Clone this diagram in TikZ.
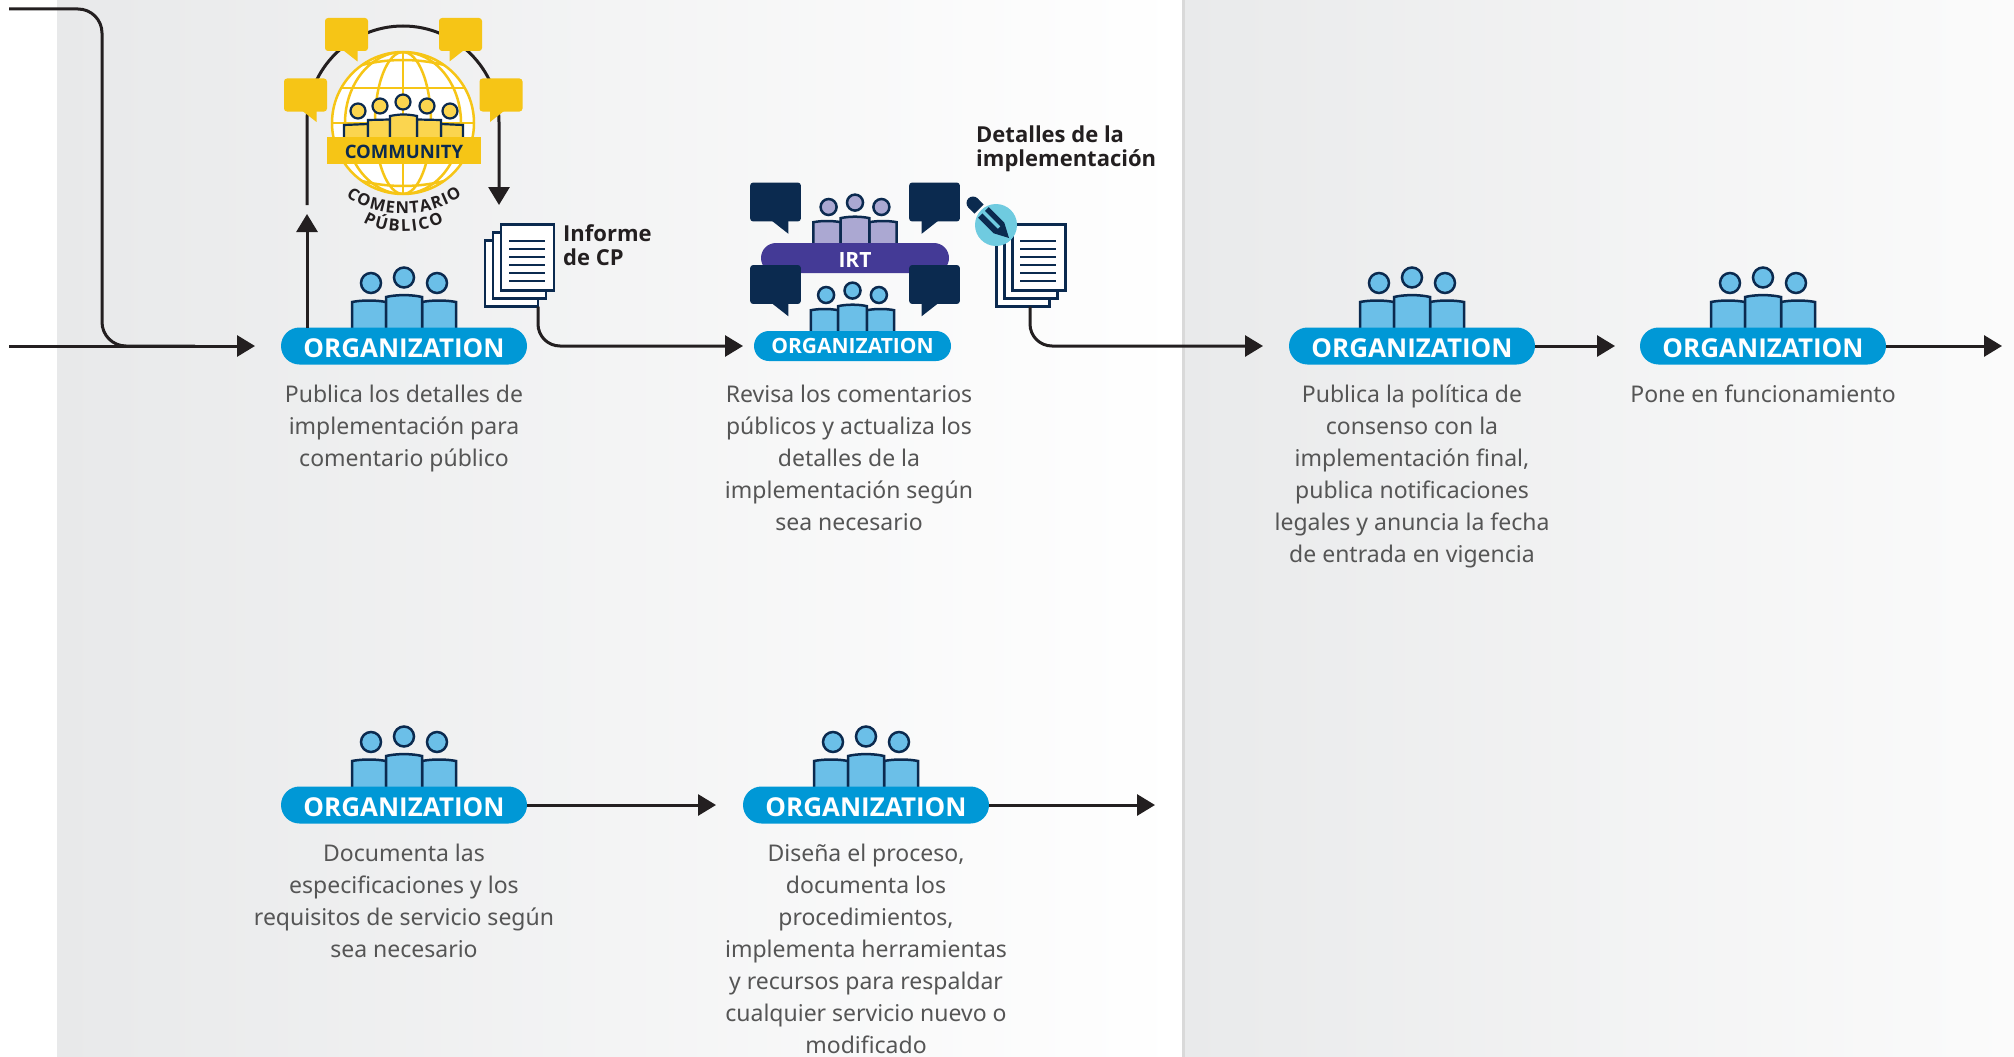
\documentclass[tikz,border=0pt]{standalone}
\usepackage{fontspec}
\setmainfont{Noto Sans}
\newfontfamily\labelfont{Open Sans}
\usetikzlibrary{arrows.meta,decorations.text}

\definecolor{navy}{HTML}{0B2A4F}
\definecolor{ink}{HTML}{231F20}
\definecolor{bodytext}{HTML}{555555}
\definecolor{orgblue}{HTML}{0098D6}
\definecolor{orgfill}{HTML}{6BBFE8}
\definecolor{irtblue}{HTML}{443A96}
\definecolor{irtfill}{HTML}{ABA8D2}
\definecolor{gold}{HTML}{F6C516}
\definecolor{goldfill}{HTML}{FBD54F}
\definecolor{pencyan}{HTML}{6FCBE0}
\definecolor{panela}{HTML}{E8E9EA}
\definecolor{panelb}{HTML}{F3F4F4}
\definecolor{panelc}{HTML}{E9EAEB}
\definecolor{paneld}{HTML}{F1F2F2}
\definecolor{panele}{HTML}{FBFBFB}

\tikzset{
    flowline/.style={ink, line width=3pt},
    flow/.style={flowline, -{Triangle[length=18pt,width=21pt]}},
    badge/.style={fill=orgblue, text=white, font=\labelfont\fontsize{26}{26}\selectfont\bfseries, rounded corners=18.5pt,
        minimum width=246pt, minimum height=37pt, inner sep=0pt, outer sep=0pt, text height=22pt, text depth=0pt},
    smallbadge/.style={badge, minimum height=30pt, rounded corners=15pt, font=\labelfont\fontsize{21}{21}\selectfont\bfseries},
    desc/.style={text=bodytext, font=\fontsize{23}{32}\selectfont, align=center, anchor=north, inner sep=0pt},
    doclabel/.style={text=ink, font=\labelfont\fontsize{22}{24}\selectfont\bfseries, align=left, anchor=north west, inner sep=0pt},
    sheet/.style={draw=navy, fill=white, line width=2.5pt, minimum width=53pt, minimum height=66pt, inner sep=0pt, outer sep=0pt},
}

% centre x, bottom y, scale, fill
\newcommand{\people}[4]{
    \begin{scope}[shift={(#1,#2)}, scale=#3]
        \foreach \dx/\dy in {-33/-45, 33/-45, 0/-50.5} {
            \draw[draw=navy, fill=#4, line width=2.5pt] (\dx,\dy) circle [radius=10];
        }
        \foreach \dx in {-52,18} {
            \draw[draw=navy, fill=#4, line width=2.5pt] (\dx,0) -- (\dx,-26)
                .. controls (\dx+10,-28) and (\dx+24,-28) .. (\dx+34,-26) -- (\dx+34,0);
        }
        \draw[draw=navy, fill=#4, line width=2.5pt] (-18,0) -- (-18,-31)
            .. controls (-8,-33.5) and (8,-33.5) .. (18,-31) -- (18,0);
    \end{scope}
}

% centre x, centre y, scale, flip, colour
\newcommand{\bubble}[5]{
    \begin{scope}[shift={(#1,#2)}, xscale=#3*#4, yscale=#3]
        \fill[#5, rounded corners=3pt] (-21.5,-16.5) rectangle (21.5,16.5);
        \fill[#5] (-3,16) -- (11,27) -- (11,16) -- cycle;
    \end{scope}
}

\begin{document}
\begin{tikzpicture}[x=1pt, y=-1pt]

% Dimensions
\def\width{2014}
\def\height{1057}
\def\rowa{346}
\def\rowb{805}

\useasboundingbox (0,0) rectangle (\width,\height);

% Panels
\shade[left color=panela, middle color=panelb, right color=white] (57,0) rectangle (1182,\height);
\fill[black!15] (1182,0) rectangle (1185,\height);
\shade[left color=panelc, middle color=paneld, right color=panele] (1185,0) rectangle (\width,\height);

% People above the badges
\people{404}{328}{1}{orgfill}
\people{1412}{328}{1}{orgfill}
\people{1763}{328}{1}{orgfill}
\people{404}{787}{1}{orgfill}
\people{866}{787}{1}{orgfill}
\people{855}{243}{0.8}{irtfill}

% Badges
\node[badge] (org1) at (404,\rowa) {ORGANIZATION};
\node[badge] (org3) at (1412,\rowa) {ORGANIZATION};
\node[badge] (org4) at (1763,\rowa) {ORGANIZATION};
\node[badge] (org5) at (404,\rowb) {ORGANIZATION};
\node[badge] (org6) at (866,\rowb) {ORGANIZATION};
\node[smallbadge, fill=irtblue, minimum width=188pt, text height=18pt] (irt) at (855,258) {IRT};

% Review group
\bubble{775.5}{202}{1.18}{1}{navy}
\bubble{934.5}{202}{1.18}{-1}{navy}
\bubble{775.5}{284.5}{1.18}{1}{navy}
\bubble{934.5}{284.5}{1.18}{-1}{navy}
\people{852.5}{331}{0.8}{orgfill}
\node[smallbadge, minimum width=197pt, text height=14pt] (org2) at (852.5,\rowa) {ORGANIZATION};

% Comment loop
\coordinate (topin) at (9,9);
\coordinate (rowin) at (9,\rowa);
\coordinate (turn) at (102,\rowa);
\coordinate (pcup) at (307,214);
\coordinate (pcleft) at (307,205);
\coordinate (pcright) at (499,205);
\draw[flow] (org1.north -| pcup) -- (pcup);
\draw[flow] (pcleft) -- (307,122) arc [start angle=180, end angle=360, radius=96] -- (pcright);

% Globe
\begin{scope}
    \fill[white] (403,123) circle [radius=71];
    \clip (403,123) circle [radius=71];
    \draw[gold, line width=2.5pt] (403,123) ellipse [x radius=28, y radius=71];
    \draw[gold, line width=2.5pt] (403,123) ellipse [x radius=58, y radius=71];
    \draw[gold, line width=2.5pt] (403,40) -- (403,200);
    \foreach \y in {88,123,158} {
        \draw[gold, line width=2.5pt] (320,\y) -- (490,\y);
    }
    \draw[gold, line width=2.5pt] (340,72) .. controls (380,56) and (426,56) .. (466,72);
    \draw[gold, line width=2.5pt] (340,174) .. controls (380,190) and (426,190) .. (466,174);
\end{scope}
\draw[gold, line width=2.5pt] (403,123) circle [radius=71];

% Community people
\begin{scope}[draw=navy, line width=2.2pt]
    \foreach \cx/\cy in {358/111, 380/106, 427/106, 450/111, 403/102} {
        \draw[draw=navy, fill=goldfill] (\cx,\cy) circle [radius=7.5];
    }
    \draw[draw=navy, fill=goldfill] (344,137) -- (344,125) -- (368,124) -- (368,137);
    \draw[draw=navy, fill=goldfill] (463,137) -- (463,125) -- (441,124) -- (441,137);
    \draw[draw=navy, fill=goldfill] (368,137) -- (368,120) -- (390,119.5) -- (390,137);
    \draw[draw=navy, fill=goldfill] (441,137) -- (441,120) -- (417,119.5) -- (417,137);
    \draw[draw=navy, fill=goldfill] (390,137) -- (390,116) .. controls (400,114) and (407,114) .. (417,116) -- (417,137);
\end{scope}
\node[fill=gold, text=navy, minimum width=154pt, minimum height=27pt, inner sep=0pt, text height=15pt, text depth=0pt, font=\labelfont\fontsize{18.5}{18.5}\selectfont\bfseries] (community) at (404,150.5) {COMMUNITY};

% Yellow bubbles
\bubble{346.5}{34.5}{1}{1}{gold}
\bubble{460.5}{34.5}{1}{-1}{gold}
\bubble{305.5}{95}{1}{1}{gold}
\bubble{501}{95}{1}{-1}{gold}

% Curved caption
\path[decorate, decoration={text along path, text align=fit to path, text color=ink,
    text={|\labelfont\fontsize{16.5}{16.5}\selectfont\bfseries|COMENTARIO}}]
    (346,196) .. controls (375,219) and (430,219) .. (462,196);
\path[decorate, decoration={text along path, text align=fit to path, text color=ink,
    text={|\labelfont\fontsize{16.5}{16.5}\selectfont\bfseries|PÚBLICO}}]
    (363,222) .. controls (385,235) and (420,235) .. (444,222);

% Document stacks
\node[sheet] (doc1) at (511.5,273.5) {};
\node[sheet] at (519.5,265.5) (doc1m) {};
\node[sheet] at (527.5,257.5) (doc1f) {};
\foreach \y in {241,249,...,281} {
    \draw[navy, line width=2pt] (509,\y) -- (545,\y);
}
\node[sheet] (doc2) at (1023,273.5) {};
\node[sheet] at (1031,265.5) (doc2m) {};
\node[sheet] at (1039,257.5) (doc2f) {};
\foreach \y in {241,249,...,281} {
    \draw[navy, line width=2pt] (1020,\y) -- (1056,\y);
}

% Pencil
\fill[pencyan] (996,225) circle [radius=21];
\fill[navy] (1009,238) -- (1004.3,222.7) -- (988.7,207.1) -- (978.1,217.7) -- (993.7,233.3) -- cycle;
\draw[pencyan, line width=3.5pt] (983,211.5) -- (999,227.5);
\fill[navy] (973,203) circle [radius=6.5];
\draw[navy, line width=13pt] (973,203) -- (979,209);

% Document labels
\node[doclabel] (cplabel) at (563,224) {Informe\\de CP};
\node[doclabel] (detlabel) at (976,126) {Detalles de la\\implementación};

% Connectors
\draw[flow, shorten >=26pt] (rowin) -- (org1.west);
\draw[flowline, rounded corners=24pt] (topin) -- (102,9) -- (turn) -- (195,\rowa);
\draw[flow, rounded corners=22pt, shorten >=11pt] (doc1.south east) |- (org2.west);
\draw[flow, rounded corners=22pt, shorten >=26pt] ([xshift=-19.5pt]doc2.south east) |- (org3.west);
\draw[flow, shorten >=25pt] (org3) -- (org4);
\coordinate (rowaend) at (2002,\rowa);
\draw[flow] (org4) -- (rowaend);
\draw[flow, shorten >=27pt] (org5) -- (org6);
\coordinate (rowbend) at (1155,\rowb);
\draw[flow] (org6) -- (rowbend);

% Descriptions
\node[desc] (txt1) at (404,384.5) {Publica los detalles de\\implementación para\\comentario público};
\node[desc] (txt2) at (849,384.5) {Revisa los comentarios\\públicos y actualiza los\\detalles de la\\implementación según\\sea necesario};
\node[desc] (txt3) at (1412,384.5) {Publica la política de\\consenso con la\\implementación final,\\publica notificaciones\\legales y anuncia la fecha\\de entrada en vigencia};
\node[desc] (txt4) at (1763,384.5) {Pone en funcionamiento};
\node[desc] (txt5) at (404,843.5) {Documenta las\\especificaciones y los\\requisitos de servicio según\\sea necesario};
\node[desc] (txt6) at (866,843.5) {Diseña el proceso,\\documenta los\\procedimientos,\\implementa herramientas\\y recursos para respaldar\\cualquier servicio nuevo o\\modificado};

\end{tikzpicture}
\end{document}
